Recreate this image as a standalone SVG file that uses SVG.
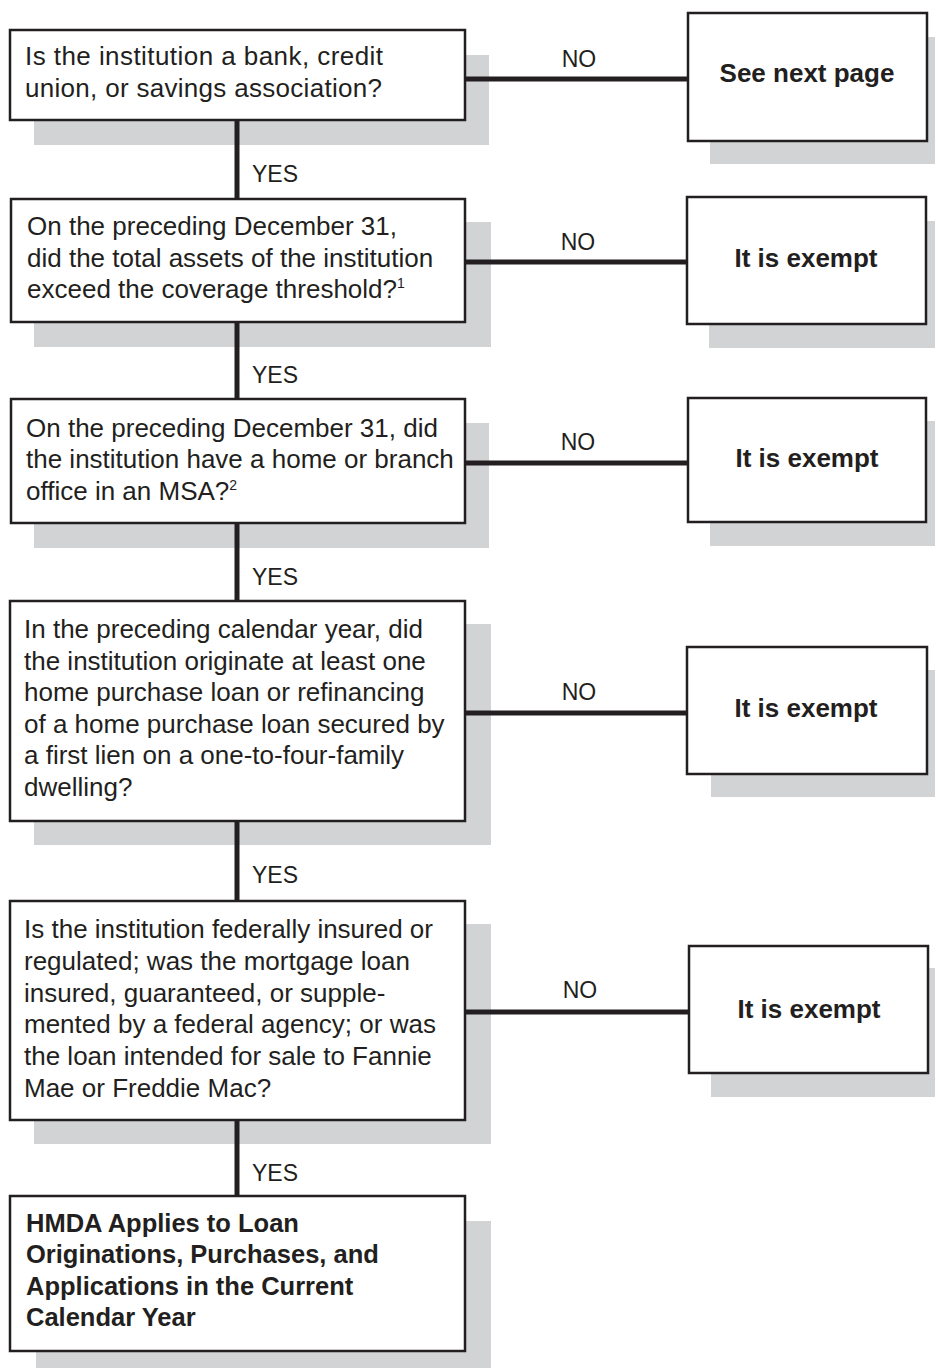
<svg xmlns="http://www.w3.org/2000/svg" width="935" height="1368" viewBox="0 0 935 1368">
<style>
.sh{fill:#d1d3d4}
.bx{fill:#fff;stroke:#231f20;stroke-width:2.5}
.t{font-family:"Liberation Sans",Arial,sans-serif;font-size:26px;fill:#231f20}
.b{font-family:"Liberation Sans",Arial,sans-serif;font-size:25.5px;font-weight:bold;fill:#231f20}
.bc{font-family:"Liberation Sans",Arial,sans-serif;font-size:26px;font-weight:bold;fill:#231f20;text-anchor:middle}
.l{font-family:"Liberation Sans",Arial,sans-serif;font-size:23px;fill:#231f20}
.lc{font-family:"Liberation Sans",Arial,sans-serif;font-size:23px;fill:#231f20;text-anchor:middle}
.c{stroke:#231f20;stroke-width:5;fill:none}
.sup{font-size:14px}
</style>
<rect width="935" height="1368" fill="#fff"/>
<g id="q1">
<rect class="sh" x="34" y="55" width="455" height="90"/>
<rect class="bx" x="10" y="30" width="455" height="90"/>
<text class="t" x="25" y="65" textLength="358" lengthAdjust="spacing">Is the institution a bank, credit</text>
<text class="t" x="25" y="97" textLength="357" lengthAdjust="spacing">union, or savings association?</text>
</g>
<g id="r1">
<rect class="sh" x="710" y="37" width="240" height="127"/>
<rect class="bx" x="688" y="13" width="239" height="128"/>
<text class="bc" x="807" y="82">See next page</text>
</g>
<g id="q2">
<rect class="sh" x="34" y="222" width="457" height="125"/>
<rect class="bx" x="11" y="199" width="454" height="123"/>
<text class="t" x="27" y="235">On the preceding December 31,</text>
<text class="t" x="27" y="267">did the total assets of the institution</text>
<text class="t" x="27" y="298">exceed the coverage threshold?<tspan class="sup" dy="-10">1</tspan></text>
</g>
<g id="r2">
<rect class="sh" x="709" y="221" width="240" height="127"/>
<rect class="bx" x="687" y="197" width="239" height="127"/>
<text class="bc" x="806" y="267">It is exempt</text>
</g>
<g id="q3">
<rect class="sh" x="34" y="423" width="455" height="125"/>
<rect class="bx" x="11" y="399" width="454" height="124"/>
<text class="t" x="26" y="437">On the preceding December 31, did</text>
<text class="t" x="26" y="468">the institution have a home or branch</text>
<text class="t" x="26" y="500">office in an MSA?<tspan class="sup" dy="-10">2</tspan></text>
</g>
<g id="r3">
<rect class="sh" x="710" y="421" width="240" height="125"/>
<rect class="bx" x="688" y="398" width="238" height="124"/>
<text class="bc" x="807" y="467">It is exempt</text>
</g>
<g id="q4">
<rect class="sh" x="34" y="624" width="457" height="221"/>
<rect class="bx" x="10" y="601" width="455" height="220"/>
<text class="t" x="24" y="638">In the preceding calendar year, did</text>
<text class="t" x="24" y="670">the institution originate at least one</text>
<text class="t" x="24" y="701">home purchase loan or refinancing</text>
<text class="t" x="24" y="733">of a home purchase loan secured by</text>
<text class="t" x="24" y="764">a first lien on a one-to-four-family</text>
<text class="t" x="24" y="796">dwelling?</text>
</g>
<g id="r4">
<rect class="sh" x="711" y="670" width="240" height="127"/>
<rect class="bx" x="687" y="647" width="240" height="127"/>
<text class="bc" x="806" y="717">It is exempt</text>
</g>
<g id="q5">
<rect class="sh" x="34" y="924" width="457" height="220"/>
<rect class="bx" x="10" y="901" width="455" height="219"/>
<text class="t" x="24" y="938">Is the institution federally insured or</text>
<text class="t" x="24" y="970">regulated; was the mortgage loan</text>
<text class="t" x="24" y="1002">insured, guaranteed, or supple-</text>
<text class="t" x="24" y="1033">mented by a federal agency; or was</text>
<text class="t" x="24" y="1065">the loan intended for sale to Fannie</text>
<text class="t" x="24" y="1097">Mae or Freddie Mac?</text>
</g>
<g id="r5">
<rect class="sh" x="711" y="968" width="240" height="129"/>
<rect class="bx" x="689" y="946" width="239" height="127"/>
<text class="bc" x="809" y="1018">It is exempt</text>
</g>
<g id="end">
<rect class="sh" x="36" y="1221" width="455" height="160"/>
<rect class="bx" x="10" y="1196" width="455" height="155"/>
<text class="b" x="26" y="1232">HMDA Applies to Loan</text>
<text class="b" x="26" y="1263">Originations, Purchases, and</text>
<text class="b" x="26" y="1295">Applications in the Current</text>
<text class="b" x="26" y="1326">Calendar Year</text>
</g>
<g id="connectors">
<path class="c" d="M237 121V198M237 323V398M237 524V600M237 822V900M237 1121V1195"/>
<path class="c" d="M466 79H687M466 262H686M466 463H687M466 713H686M466 1012H688"/>
<text class="l" x="252" y="182">YES</text>
<text class="l" x="252" y="383">YES</text>
<text class="l" x="252" y="585">YES</text>
<text class="l" x="252" y="883">YES</text>
<text class="l" x="252" y="1181">YES</text>
<text class="lc" x="579" y="67">NO</text>
<text class="lc" x="578" y="250">NO</text>
<text class="lc" x="578" y="450">NO</text>
<text class="lc" x="579" y="700">NO</text>
<text class="lc" x="580" y="998">NO</text>
</g>
</svg>
